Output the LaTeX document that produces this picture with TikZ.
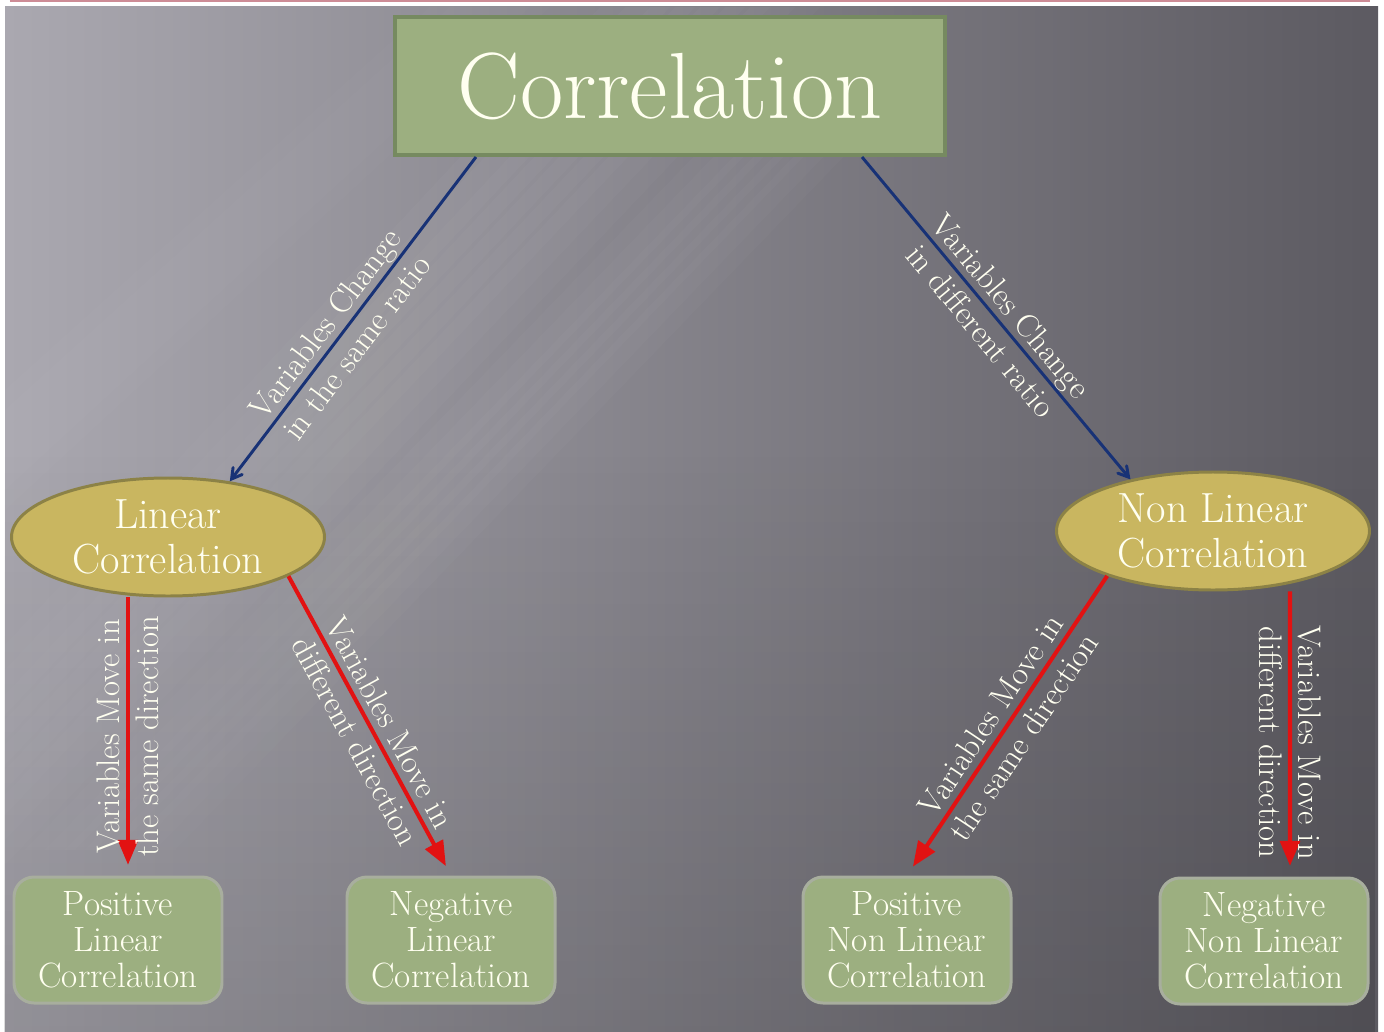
\documentclass[tikz,border=0pt]{standalone}
\usepackage{fontspec}
\usetikzlibrary{shapes,arrows,fadings}

\definecolor{boxgreen}{RGB}{156,175,128}
\definecolor{boxedge}{RGB}{118,138,96}
\definecolor{ovalfill}{RGB}{201,182,96}
\definecolor{ovaledge}{RGB}{140,130,70}
\definecolor{leafedge}{RGB}{168,174,158}
\definecolor{navyline}{RGB}{24,50,118}
\definecolor{redline}{RGB}{226,18,18}
\definecolor{paper}{RGB}{255,255,240}
\definecolor{bgleft}{RGB}{170,168,176}
\definecolor{bgmid}{RGB}{118,116,124}
\definecolor{bgright}{RGB}{92,90,97}
\definecolor{topline}{RGB}{205,140,150}

\tikzset{
  titlebox/.style={rectangle, draw=boxedge, fill=boxgreen, line width=2.3pt,
    minimum width=11cm, minimum height=2.76cm, text=paper,
    font=\fontsize{53.5}{64}\selectfont},
  oval/.style={ellipse, draw=ovaledge, fill=ovalfill, line width=1.7pt,
    minimum width=6.26cm, minimum height=2.36cm, inner sep=0pt, align=center,
    text=paper, font=\fontsize{24}{25.6}\selectfont},
  leaf/.style={rectangle, rounded corners=0.4cm, draw=leafedge, fill=boxgreen,
    line width=1.7pt, minimum width=4.16cm, minimum height=2.52cm, align=center,
    text=paper, font=\fontsize{20}{20.5}\selectfont},
  bluearrow/.style={->, >=angle 60, draw=navyline, line width=1.7pt},
  redarrow/.style={->, >=triangle 45, draw=redline, line width=2.3pt, shorten >=0.22cm},
  tag/.style={align=center, text=paper, inner sep=0pt,
    font=\fontsize{18.6}{22.5}\selectfont}
}

\begin{document}
\begin{tikzpicture}[thick]

\useasboundingbox (0,0) rectangle (27.68,-20.64);

%background
\fill[white] (0,0) rectangle (27.68,-20.64);
\draw[topline, line width=1.2pt] (0.2,-0.02) -- (27.4,-0.02);
\shade[left color=bgleft, middle color=bgmid, right color=bgright]
  (0.1,-0.14) rectangle (27.56,-20.64);
\foreach \d in {0,0.5,...,3}
  \fill[white, opacity=0.018] (12+\d,-0.14) -- (13.4+\d,-0.14) -- (0.1,-14.3-\d) -- (0.1,-12.9-\d) -- cycle;
\foreach \d in {0,0.4,...,2}
  \fill[white, opacity=0.018] (14+\d,-3) -- (15+\d,-3) -- (1.5+\d,-17) -- (0.5+\d,-17) -- cycle;
\foreach \d in {0,0.4,...,1.6}
  \fill[white, opacity=0.015] (8.6+\d,-0.14) -- (9.4+\d,-0.14) -- (0.1,-8.6-\d) -- (0.1,-7.8-\d) -- cycle;
\fill[black, opacity=0.14, path fading=north] (0.1,-9) rectangle (27.56,-20.64);

%nodes
\node[titlebox] (corr) at (13.4,-1.72) {Correlation};
\node[oval] (lin) at (3.36,-10.74) {Linear\\Correlation};
\node[oval] (nlin) at (24.26,-10.62) {Non Linear\\Correlation};
\node[leaf] (pl) at (2.36,-18.8) {Positive\\Linear\\Correlation};
\node[leaf] (nl) at (9.02,-18.8) {Negative\\Linear\\Correlation};
\node[leaf] (pn) at (18.14,-18.8) {Positive\\Non Linear\\Correlation};
\node[leaf] (nn) at (25.28,-18.82) {Negative\\Non Linear\\Correlation};

%arrows
\draw[bluearrow] ([xshift=1.66cm]corr.south west) --
  node[tag, sloped, pos=0.55] {Variables Change\\in the same ratio} (lin.42);
\draw[bluearrow] ([xshift=-1.7cm]corr.south east) --
  node[tag, sloped, pos=0.5] {Variables Change\\in different ratio} (nlin.148);

\draw[redarrow] ([xshift=-0.8cm]lin.south) --
  node[tag, rotate=90] {Variables Move in\\the same direction} ([xshift=0.2cm]pl.north);
\draw[redarrow] (lin.-18) --
  node[tag, sloped, pos=0.52] {Variables Move in\\different direction} (nl.north);
\draw[redarrow] (nlin.203) --
  node[tag, sloped, pos=0.5] {Variables Move in\\the same direction} (pn.north);
\draw[redarrow] ([xshift=1.54cm]nlin.south) --
  node[tag, rotate=-90, pos=0.53] {Variables Move in\\different direction} ([xshift=0.52cm]nn.north);

\end{tikzpicture}
\end{document}
